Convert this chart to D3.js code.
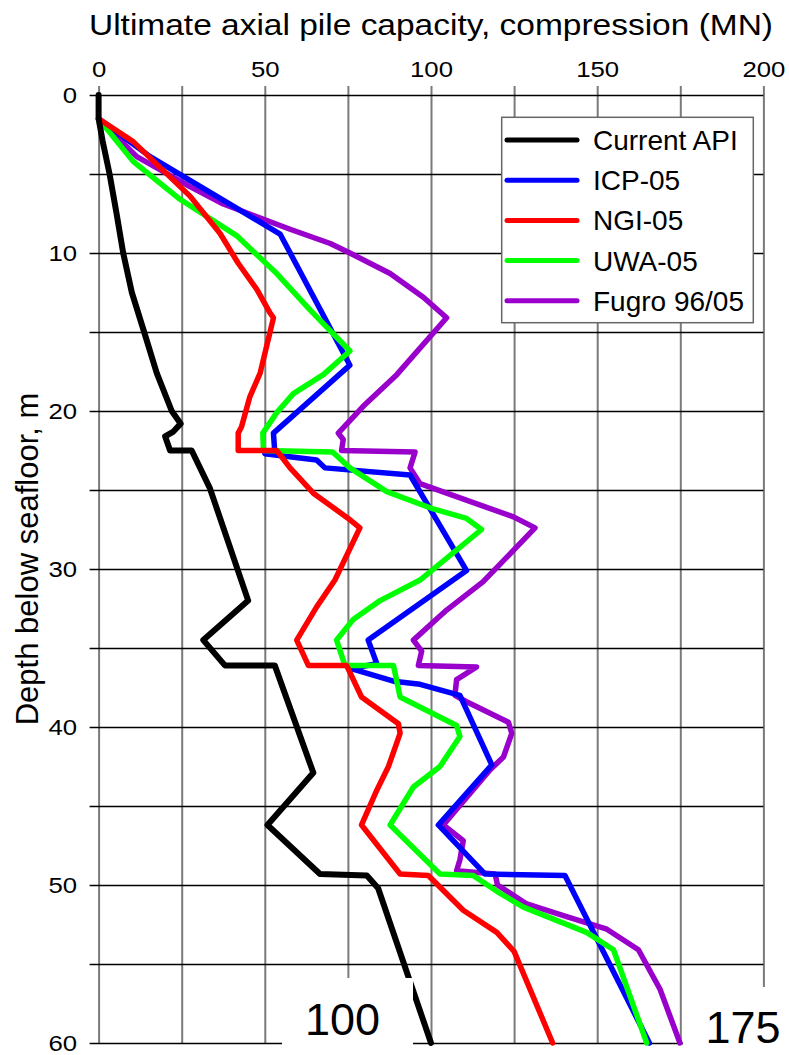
<!DOCTYPE html>
<html>
<head>
<meta charset="utf-8">
<script src="https://cdn.jsdelivr.net/npm/d3@7"></script>
<style>
    body { margin: 0; background: #fff; }
    svg { display: block; font-family: "Liberation Sans", Arial, sans-serif; }
</style>
</head>
<body>
<div id="chart"></div>
<script>
// Series values, each point is [capacity (MN), depth (m)]
const currentApi = [[0,0],[0,1.5],[1.2,2.9],[3.3,5],[5.4,7.5],[7.4,10],[10,12.5],[13.7,15],[17.5,17.6],
    [22,20],[24.7,20.8],[22.5,21.3],[20,21.6],[21.5,22.5],[28,22.5],[33.5,24.9],[45,32],[31.5,34.5],
    [38,36.1],[53,36.1],[64.6,42.9],[50.8,46.2],[66.6,49.3],[80.7,49.4],[84.1,50.2],[100,60]];

const icp05 = [[0,1.5],[15.5,3.9],[54.6,8.8],[75.6,17.1],[52.6,21.4],[53,22.6],[50,22.7],[65.6,23.1],
    [68.1,23.6],[93.7,24.05],[110.7,30.1],[81.1,34.5],[83.7,36.0],[76,36.3],[88.7,37.1],[96.7,37.3],
    [108.7,38.0],[118.3,42.4],[102.2,46.2],[116.2,49.3],[140.3,49.4],[165.7,60]];

const ngi05 = [[0,1.5],[10.4,2.95],[27.5,6.4],[36.5,8.75],[42,10.65],[47.6,12.3],[51.6,13.8],[52.6,14.1],
    [48.6,17.6],[45.5,19.1],[43,21],[42,21.4],[42,22.5],[53.6,22.5],[57.6,23.6],[64.6,25.2],[75.1,26.8],
    [78.6,27.4],[71.1,30.7],[65.6,32.4],[59.6,34.5],[63.1,36.1],[74.6,36.1],[79.1,38.1],[90.2,39.8],
    [90.7,40.4],[87.2,42.5],[83.7,44],[79.1,46.2],[90.7,49.3],[99.2,49.4],[109.7,51.6],[119.8,53],
    [125,54.2],[136.6,60]];

const uwa05 = [[0,1.5],[10.4,4.2],[24.5,6.6],[41.5,8.9],[53.6,11.3],[63.6,13.6],[75.6,16.2],[67.6,17.7],
    [58.6,18.9],[53.6,20.1],[49.4,21.4],[49.6,22.5],[70.4,22.6],[75.6,23.6],[86.7,25.1],[100.7,26.2],
    [110.7,26.8],[115.2,27.5],[96.7,30.7],[84.7,32],[76.6,33.2],[71.6,34.5],[74.1,36.1],[88.7,36.1],
    [90.7,38.1],[107.7,39.9],[108.7,40.6],[102.7,42.5],[94.7,43.8],[87.7,46.2],[102.7,49.3],[112.7,49.4],
    [119.8,50.4],[127.8,51.4],[146.8,53],[154.9,54.1],[164.9,60]];

const fugro = [[0,1.5],[11.5,3.9],[27.5,5.8],[37.5,6.9],[57.6,8.5],[69.7,9.4],[75.6,10],[87.7,11.3],
    [97.7,12.8],[104.7,14.1],[89.7,17.7],[79.6,19.7],[72.1,21.4],[73.6,21.8],[73.1,22.5],[95.2,22.6],
    [93.7,23.6],[96.7,24.6],[104.7,25.2],[124.8,26.7],[131.3,27.4],[115.7,30.8],[104.7,32.6],[94.7,34.5],
    [97.2,35.2],[96.2,36.1],[113.7,36.2],[107.7,37],[107.2,38],[110.7,38.4],[123.3,39.7],[124.3,40.4],
    [121.8,41.9],[117.8,42.7],[103.7,46.2],[109.7,47.2],[108.7,48.4],[107.7,49.1],[119.3,49.3],[120,50],
    [128.8,51.2],[140.8,52],[152.9,52.8],[162.4,54.1],[168.9,56.6],[174.9,60]];

const seriesNames = ["Current API", "ICP-05", "NGI-05", "UWA-05", "Fugro 96/05"];
const seriesColors = ["#000000", "#0000ff", "#ff0000", "#00ff00", "#9900cc"];
const seriesData = [currentApi, icp05, ngi05, uwa05, fugro];
const drawOrder = [4, 1, 3, 2, 0]; // purple under, black on top

const xTicks = d3.range(0, 201, 25);
const yTicks = d3.range(0, 61, 5);
const cornerLabels = ["100", "175"];

// Set up dimensions
const margin = {top: 95, left: 98.6},
    width = 664.8,
    height = 948;

const svg = d3.select("#chart").append("svg")
    .attr("width", 789)
    .attr("height", 1055);

const g = svg.append("g")
    .attr("transform", "translate(" + margin.left + "," + margin.top + ")");

// Scales
const x = d3.scaleLinear().domain([0, 200]).range([0, width]);
const y = d3.scaleLinear().domain([0, 60]).range([0, height]);

// Tick labels in the reference are a little wider than the font
const stretch = 1.12;

// Top axis with vertical grid
const xAxis = g.append("g")
    .call(d3.axisTop(x).tickValues(xTicks).tickSize(9)
        .tickFormat(d => d % 50 === 0 ? d : ""));
xAxis.select(".domain").remove();
xAxis.selectAll(".tick line")
    .attr("y1", height)
    .attr("y2", -9)
    .attr("stroke", "#7a7a7a")
    .attr("stroke-width", 2);
xAxis.selectAll(".tick text")
    .attr("y", -18.5)
    .attr("dy", 0)
    .attr("fill", "#000")
    .attr("font-family", "Liberation Sans, Arial, sans-serif")
    .attr("transform", "scale(" + stretch + ",1)")
    .style("font-size", "23px");

// Left axis with horizontal grid
const yAxis = g.append("g")
    .call(d3.axisLeft(y).tickValues(yTicks).tickSize(9)
        .tickFormat(d => d % 10 === 0 ? d : ""));
yAxis.select(".domain").remove();
yAxis.selectAll(".tick line")
    .attr("x1", width)
    .attr("x2", -9)
    .attr("stroke", "#000")
    .attr("stroke-width", 1.3);
yAxis.selectAll(".tick text")
    .attr("x", -21.5 / stretch)
    .attr("dy", "0.34em")
    .attr("fill", "#000")
    .attr("font-family", "Liberation Sans, Arial, sans-serif")
    .attr("transform", "scale(" + stretch + ",1)")
    .style("font-size", "23px");

// Lines
const line = d3.line()
    .x(d => x(d[0]))
    .y(d => y(d[1]));

drawOrder.forEach(function(i) {
    g.append("path")
        .datum(seriesData[i])
        .attr("fill", "none")
        .attr("stroke", seriesColors[i])
        .attr("stroke-width", i === 0 ? 6 : 5.5)
        .attr("stroke-linejoin", "round")
        .attr("stroke-linecap", "round")
        .attr("d", line);
});

// Legend
const legend = svg.append("g");
legend.append("rect")
    .attr("x", 501.7).attr("y", 117.3)
    .attr("width", 251.6).attr("height", 205.4)
    .attr("fill", "#fff")
    .attr("stroke", "#666")
    .attr("stroke-width", 1.5);

seriesNames.forEach(function(name, i) {
    const rowY = 140 + i * 40.2;
    legend.append("line")
        .attr("x1", 507).attr("x2", 577)
        .attr("y1", rowY).attr("y2", rowY)
        .attr("stroke", seriesColors[i])
        .attr("stroke-width", 5)
        .attr("stroke-linecap", "round");
    legend.append("text")
        .attr("x", 593)
        .attr("y", rowY + 10)
        .style("font-size", "28px")
        .text(name);
});

// Titles
svg.append("text")
    .attr("x", 431)
    .attr("y", 35)
    .attr("text-anchor", "middle")
    .attr("textLength", 684)
    .attr("lengthAdjust", "spacingAndGlyphs")
    .style("font-size", "30px")
    .text("Ultimate axial pile capacity, compression (MN)");

svg.append("text")
    .attr("transform", "translate(38,559) rotate(-90)")
    .attr("text-anchor", "middle")
    .style("font-size", "31px")
    .text("Depth below seafloor, m");

// Corner labels on white boxes
const boxes = [
    {x: 282, y: 978, w: 131, h: 77, tx: 342.5, ty: 1035},
    {x: 683, y: 987, w: 106, h: 68, tx: 743, ty: 1043}
];
boxes.forEach(function(b, i) {
    svg.append("rect")
        .attr("x", b.x).attr("y", b.y)
        .attr("width", b.w).attr("height", b.h)
        .attr("fill", "#fff");
    svg.append("text")
        .attr("x", b.tx).attr("y", b.ty)
        .attr("text-anchor", "middle")
        .style("font-size", "45px")
        .text(cornerLabels[i]);
});
</script>
</body>
</html>
